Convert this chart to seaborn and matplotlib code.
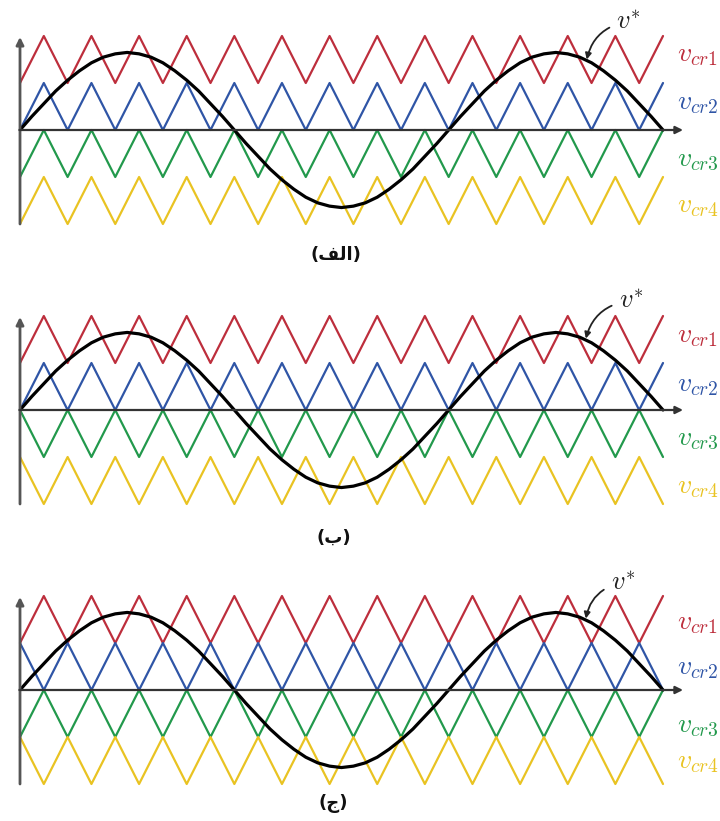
import numpy as np
import pandas as pd
import matplotlib
matplotlib.use("Agg")
import matplotlib.pyplot as plt
import seaborn as sns

# --- DATA ---
# reference signal v*, read every quarter carrier period over 1.5 cycles
v_ref = [0.00, 0.29, 0.56, 0.83, 1.06, 1.26, 1.43, 1.55, 1.62, 1.65,
         1.62, 1.55, 1.43, 1.26, 1.06, 0.83, 0.56, 0.29, 0.00,
         -0.29, -0.56, -0.83, -1.06, -1.26, -1.43, -1.55, -1.62, -1.65,
         -1.62, -1.55, -1.43, -1.26, -1.06, -0.83, -0.56, -0.29, 0.00,
         0.29, 0.56, 0.83, 1.06, 1.26, 1.43, 1.55, 1.62, 1.65,
         1.62, 1.55, 1.43, 1.26, 1.06, 0.83, 0.56, 0.29, 0.00]
n_carrier_periods = 13.5          # carrier periods shown in the window
band_low = [1, 0, -1, -2]         # lower edge of each carrier band
carrier_labels = [r'$v_{cr1}$', r'$v_{cr2}$', r'$v_{cr3}$', r'$v_{cr4}$']
carrier_colors = ['#bd2e3c', '#2f55a6', '#22994c', '#e9c322']
# 0 = carrier starts at its trough, 1 = starts at its peak (inverted)
panel_phase = [[0, 0, 0, 0],      # PD
               [0, 0, 1, 1],      # POD
               [0, 1, 0, 1]]      # APOD
# Arabic captions (الف), (ب), (ج) in shaped presentation forms, visual order
panel_captions = ['(\ufed2\ufedf\ufe8d)', '(\ufe8f)', '(\ufe9d)']

# --- LAYOUT (pixels of a 720x821 canvas) ---
W, H = 720, 821
X0_PX, XSCALE = 20, 643 / n_carrier_periods
YSCALE = 47.0
panels_px = [(0, 275, 130), (275, 550, 410), (550, 821, 690)]   # top, bottom, zero line
label_y = [[1.62, 0.60, -0.62, -1.60],
           [1.60, 0.55, -0.60, -1.62],
           [1.45, 0.50, -0.75, -1.50]]
vstar_text = [(12.78, 2.30), (12.83, 2.32), (12.66, 2.28)]
vstar_tip = [(11.90, 1.50), (11.88, 1.52), (11.88, 1.52)]
caption_xy = [(336, 255), (334, 538), (333, 803)]

sns.set_theme(style="white")
plt.rcParams['mathtext.fontset'] = 'cm'
plt.rcParams['font.family'] = ['DejaVu Sans']

fig = plt.figure(figsize=(W / 100, H / 100), dpi=100)
fig.patch.set_facecolor('white')

n_vert = int(n_carrier_periods * 2) + 1
carrier_x = np.arange(n_vert) * 0.5
ref_x = np.linspace(0, n_carrier_periods, len(v_ref))
xlim = (-X0_PX / XSCALE, (W - X0_PX) / XSCALE)

for p, (top, bot, zero) in enumerate(panels_px):
    ax = fig.add_axes([0, 1 - bot / H, 1, (bot - top) / H])
    ax.set_xlim(*xlim)
    ax.set_ylim(-(bot - zero) / YSCALE, (zero - top) / YSCALE)
    ax.axis('off')

    rows = []
    for i in range(4):
        zig = (np.arange(n_vert) + panel_phase[p][i]) % 2
        rows.append(pd.DataFrame({'x': carrier_x, 'y': band_low[i] + zig,
                                  'carrier': carrier_labels[i]}))
    df = pd.concat(rows, ignore_index=True)
    sns.lineplot(data=df, x='x', y='y', hue='carrier', palette=carrier_colors,
                 estimator=None, sort=False, lw=1.6, legend=False, ax=ax)

    # axes with arrows
    ax.annotate('', xy=(0, 1.98), xytext=(0, -2.0),
                arrowprops=dict(arrowstyle='-|>', color='#555555', lw=2.0,
                                mutation_scale=11, shrinkA=0, shrinkB=0))
    ax.annotate('', xy=(13.92, 0), xytext=(0, 0),
                arrowprops=dict(arrowstyle='-|>', color='#333333', lw=1.6,
                                mutation_scale=11, shrinkA=0, shrinkB=0))

    sns.lineplot(x=ref_x, y=v_ref, color='black', lw=2.3, ax=ax)

    for i in range(4):
        ax.text(13.79, label_y[p][i], carrier_labels[i], color=carrier_colors[i],
                fontsize=20, ha='left', va='center')

    ax.annotate(r'$v^{*}$', xy=vstar_tip[p], xytext=vstar_text[p],
                fontsize=19, ha='center', va='center', color='#222222',
                arrowprops=dict(arrowstyle='-|>', color='#222222', lw=1.3,
                                mutation_scale=9, shrinkA=3, shrinkB=0,
                                connectionstyle='arc3,rad=0.35'))

for (cx, cy), cap in zip(caption_xy, panel_captions):
    fig.text(cx / W, 1 - cy / H, cap, fontsize=13, fontweight='bold',
             ha='center', va='center', color='#111111')

fig.savefig('out.png', dpi=100, facecolor='white')
